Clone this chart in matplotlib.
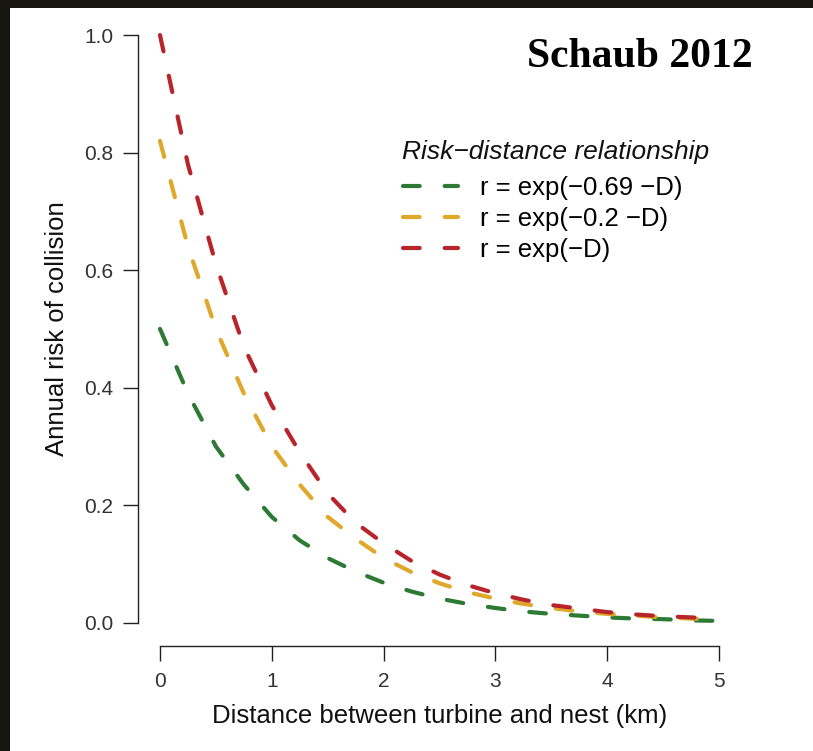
import matplotlib
matplotlib.use("Agg")
import matplotlib.pyplot as plt
from matplotlib.patches import Rectangle

plt.rcParams['font.family'] = ['Liberation Sans', 'DejaVu Sans']

# Data
distance = [0, 0.25, 0.5, 0.75, 1, 1.25, 1.5, 1.75, 2, 2.25, 2.5, 2.75,
            3, 3.25, 3.5, 3.75, 4, 4.25, 4.5, 4.75, 5]
risk_069 = [0.50, 0.39, 0.30, 0.235, 0.18, 0.14, 0.11, 0.087, 0.068, 0.053, 0.041,
            0.032, 0.025, 0.019, 0.015, 0.012, 0.009, 0.007, 0.006, 0.004, 0.003]
risk_02 = [0.82, 0.64, 0.50, 0.39, 0.30, 0.235, 0.18, 0.143, 0.11, 0.086, 0.067,
           0.052, 0.041, 0.032, 0.025, 0.019, 0.015, 0.012, 0.009, 0.007, 0.006]
risk_0 = [1.00, 0.78, 0.61, 0.47, 0.37, 0.29, 0.22, 0.17, 0.135, 0.105, 0.082,
          0.064, 0.05, 0.039, 0.03, 0.024, 0.018, 0.014, 0.011, 0.009, 0.007]
labels = ["r = exp(\u22120.69 \u2212D)", "r = exp(\u22120.2 \u2212D)", "r = exp(\u2212D)"]
colors = ["#2d7a35", "#e0a82a", "#b8242a"]
xticks = [0, 1, 2, 3, 4, 5]
yticks = [0.0, 0.2, 0.4, 0.6, 0.8, 1.0]

W, H = 813, 751
fig = plt.figure(figsize=(W / 100, H / 100), dpi=100)
fig.patch.set_facecolor("white")

# dark frame (left and top)
fig.patches.append(Rectangle((0, 0), 10 / W, 1, transform=fig.transFigure,
                             facecolor="#16160f", edgecolor="none", zorder=0))
fig.patches.append(Rectangle((0, 1 - 8 / H), 1, 8 / H, transform=fig.transFigure,
                             facecolor="#16160f", edgecolor="none", zorder=0))

left, right, top, bottom = 137.6, 741.4, 11.5, 646.2
ax = fig.add_axes([left / W, 1 - bottom / H, (right - left) / W, (bottom - top) / H])
ax.set_xlim(-0.2, 5.2)
ax.set_ylim(-0.04, 1.04)

lw = 3.0
for ys, lab, col in zip([risk_069, risk_02, risk_0], labels, colors):
    line, = ax.plot(distance, ys, color=col, lw=lw, label=lab,
                    solid_capstyle='round', dash_capstyle='round')
    line.set_dashes([4.0, 6.0])

for s in ["top", "right"]:
    ax.spines[s].set_visible(False)
ax.spines["left"].set_bounds(0, 1)
ax.spines["bottom"].set_bounds(0, 5)
for s in ["left", "bottom"]:
    ax.spines[s].set_linewidth(1.0)
    ax.spines[s].set_color("#222222")

ax.set_xticks(xticks)
ax.set_xticklabels([str(v) for v in xticks])
ax.set_yticks(yticks)
ax.set_yticklabels([f"{v:.1f}" for v in yticks])
ax.tick_params(axis="both", length=10.8, width=1.0, color="#222222",
               labelsize=15, labelcolor="#333333")
ax.tick_params(axis="y", pad=6.5)
ax.tick_params(axis="x", pad=8)

ax.set_xlabel("Distance between turbine and nest (km)", fontsize=18.5, color="#111111", labelpad=9)
ax.set_ylabel("Annual risk of collision", fontsize=18.5, color="#111111", labelpad=11)

leg = ax.legend(loc="upper left", bbox_to_anchor=(403 / W, 1 - 176 / H),
                bbox_transform=fig.transFigure, frameon=False, fontsize=18.5,
                borderpad=0, borderaxespad=0,
                handlelength=2.15, handletextpad=0.85, labelspacing=0.27)

fig.text(402 / W, 1 - 152 / H, "Risk\u2212distance relationship", ha="left", va="center",
         fontsize=19, style="italic", color="#111111")

fig.text(640 / W, 1 - 67 / H, "Schaub 2012", ha="center", va="baseline",
         fontsize=30, fontweight="bold", family="Liberation Serif")

fig.savefig("out.png", dpi=100)
